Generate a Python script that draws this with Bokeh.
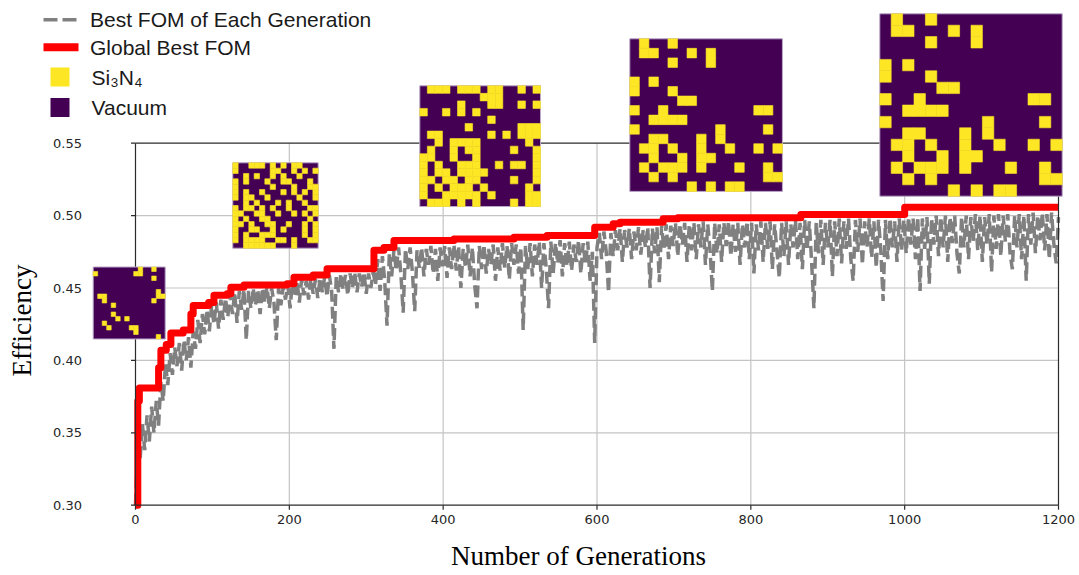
import math
from bokeh.plotting import figure
from bokeh.models import Range1d
from bokeh.core.properties import value
from bokeh.embed import file_html
from bokeh.resources import INLINE

# ---------------- data ----------------
# Global best FOM (step changes): generation, efficiency
red_gen = [0, 3, 5, 30, 33, 40, 46, 62, 72, 75, 95, 102, 119, 124, 141, 197, 206,
           231, 249, 310, 323, 336, 414, 492, 535, 597, 621, 630, 686, 705, 865, 1000, 1200]
red_val = [0.300, 0.372, 0.381, 0.395, 0.407, 0.411, 0.419, 0.421, 0.432, 0.438, 0.440,
           0.445, 0.446, 0.4505, 0.452, 0.453, 0.4575, 0.459, 0.4633, 0.476, 0.478, 0.4828,
           0.4839, 0.4851, 0.4862, 0.492, 0.4943, 0.4954, 0.4978, 0.4985, 0.5008, 0.5058, 0.5058]

# Best FOM of each generation (read every 3 generations)
gray_every = 3
gray_val = [
    0.300, 0.345, 0.332, 0.356, 0.338, 0.362, 0.344, 0.368, 0.350, 0.372, 0.355, 0.385, 0.372, 0.398, 0.383, 0.405, 0.390, 0.409, 0.396, 0.412,
    0.393, 0.414, 0.400, 0.416, 0.395, 0.420, 0.408, 0.428, 0.412, 0.432, 0.418, 0.435, 0.420, 0.438, 0.425, 0.440, 0.422, 0.442, 0.428, 0.443,
    0.430, 0.446, 0.432, 0.447, 0.426, 0.448, 0.435, 0.449, 0.414, 0.448, 0.436, 0.450, 0.438, 0.449, 0.432, 0.450, 0.440, 0.451, 0.436, 0.450,
    0.440, 0.414, 0.450, 0.438, 0.451, 0.442, 0.452, 0.436, 0.454, 0.444, 0.455, 0.440, 0.456, 0.445, 0.455, 0.442, 0.457, 0.446, 0.456, 0.443,
    0.457, 0.447, 0.458, 0.444, 0.459, 0.448, 0.408, 0.458, 0.447, 0.460, 0.449, 0.459, 0.445, 0.460, 0.450, 0.461, 0.447, 0.460, 0.451, 0.461,
    0.446, 0.460, 0.450, 0.461, 0.452, 0.470, 0.448, 0.472, 0.455, 0.424, 0.474, 0.458, 0.476, 0.462, 0.478, 0.460, 0.433, 0.477, 0.463, 0.478,
    0.461, 0.434, 0.476, 0.464, 0.478, 0.458, 0.477, 0.466, 0.479, 0.460, 0.477, 0.455, 0.478, 0.465, 0.479, 0.457, 0.478, 0.463, 0.480, 0.462,
    0.479, 0.450, 0.477, 0.464, 0.480, 0.458, 0.478, 0.452, 0.436, 0.479, 0.463, 0.480, 0.460, 0.477, 0.466, 0.480, 0.455, 0.478, 0.462, 0.481,
    0.464, 0.479, 0.456, 0.481, 0.466, 0.480, 0.460, 0.478, 0.421, 0.479, 0.463, 0.481, 0.458, 0.480, 0.466, 0.482, 0.450, 0.481, 0.464, 0.436,
    0.482, 0.460, 0.481, 0.467, 0.483, 0.458, 0.481, 0.465, 0.482, 0.462, 0.480, 0.468, 0.483, 0.460, 0.481, 0.466, 0.482, 0.455, 0.475, 0.412,
    0.478, 0.488, 0.470, 0.489, 0.475, 0.447, 0.488, 0.472, 0.490, 0.476, 0.491, 0.468, 0.490, 0.478, 0.491, 0.470, 0.489, 0.476, 0.492, 0.473,
    0.490, 0.478, 0.492, 0.450, 0.491, 0.474, 0.492, 0.454, 0.493, 0.477, 0.494, 0.470, 0.493, 0.479, 0.495, 0.472, 0.494, 0.480, 0.495, 0.468,
    0.494, 0.476, 0.495, 0.470, 0.494, 0.478, 0.496, 0.466, 0.494, 0.476, 0.448, 0.495, 0.474, 0.494, 0.468, 0.495, 0.479, 0.496, 0.472, 0.494,
    0.475, 0.495, 0.466, 0.494, 0.478, 0.496, 0.470, 0.495, 0.460, 0.494, 0.476, 0.496, 0.468, 0.495, 0.477, 0.496, 0.463, 0.494, 0.475, 0.457,
    0.495, 0.472, 0.496, 0.466, 0.494, 0.478, 0.497, 0.470, 0.495, 0.463, 0.497, 0.476, 0.496, 0.468, 0.436, 0.495, 0.474, 0.497, 0.466, 0.495,
    0.478, 0.497, 0.458, 0.496, 0.472, 0.498, 0.467, 0.496, 0.477, 0.498, 0.470, 0.455, 0.497, 0.475, 0.498, 0.466, 0.496, 0.478, 0.498, 0.471,
    0.496, 0.464, 0.497, 0.476, 0.441, 0.497, 0.470, 0.498, 0.478, 0.496, 0.468, 0.498, 0.476, 0.497, 0.474, 0.499, 0.480, 0.498, 0.470, 0.499,
    0.448, 0.498, 0.477, 0.499, 0.453, 0.498, 0.480, 0.500, 0.472, 0.499, 0.478, 0.500, 0.468, 0.499, 0.481, 0.500, 0.474, 0.460, 0.499, 0.478,
    0.500, 0.470, 0.499, 0.482, 0.501, 0.476, 0.500, 0.468, 0.499, 0.480, 0.501, 0.461, 0.500, 0.477, 0.501, 0.472, 0.500, 0.482, 0.501, 0.474,
    0.463, 0.500, 0.478, 0.501, 0.470, 0.500, 0.455, 0.501, 0.480, 0.502, 0.474, 0.500, 0.483, 0.502, 0.476, 0.501, 0.470, 0.502, 0.480, 0.467,
    0.499,
]
assert len(gray_val) == 401, len(gray_val)
gray_gen = [gray_every * i for i in range(len(gray_val))]

x_ticks = [0, 200, 400, 600, 800, 1000, 1200]
x_tick_labels = ["0", "200", "400", "600", "800", "1000", "1200"]
y_ticks = [0.30, 0.35, 0.40, 0.45, 0.50, 0.55]
y_tick_labels = ["0.30", "0.35", "0.40", "0.45", "0.50", "0.55"]
x_title = "Number of Generations"
y_title = "Efficiency"
legend_labels = ["Best FOM of Each Generation", "Global Best FOM", "Si\u2083N\u2084", "Vacuum"]

# Structure snapshots (16x16, '#' = Si3N4, '.' = vacuum), top row first
pattern_a = [
    "..........#..#..",
    "#........##.....",
    ".............#..",
    "................",
    "................",
    "..............#.",
    ".##...........##",
    "..#..........#..",
    "....#...........",
    "................",
    "....#...........",
    ".....#.#........",
    "..#.............",
    "...#....##......",
    ".........#......",
    "..............#.",
]
pattern_b = [
    "#..###.#.#.##...",
    "#......##..#.#.#",
    "..#.#..#.#..#...",
    "#.#...#..##...#.",
    "#......#...#..##",
    "#.#..#...#.#.#.#",
    "#.##..#.....#..#",
    "..#.#...#.#..#..",
    "#.##.#.#..#...##",
    "##..##..#..#.#.#",
    "#.#..##.......#.",
    "##.#..##..#..#.#",
    "#..##..#.#...#.#",
    "#.#..###.....#.#",
    "#.####..##.#..##",
    "..######...#....",
]
pattern_c = [
    ".###.###.##..#.#",
    "........###.....",
    ".....#...##..#.#",
    "#..#.#.#........",
    ".........#......",
    "......#......###",
    ".##......#.#.###",
    "..#.####......#.",
    ".#..#.##....#..#",
    "##..#..#.......#",
    "#.#..###..#.##.#",
    "#.##.####......#",
    "##.##.##....#..#",
    "#.#.###.#.....#.",
    "#..#####.#....##",
    ".###.#.#....#.##",
]
pattern_d = [
    ".#..#...........",
    ".##...#.#.......",
    "....#...#.......",
    "................",
    "#.#.............",
    "#...#...........",
    ".....##.........",
    "#..#.........##.",
    "..####..........",
    "#........#....#.",
    "..##...#.#......",
    ".##.#..#..#..#.#",
    "..#..#.##.......",
    ".#.###.#...#..#.",
    "..#.#.........##",
    "......#.#.##....",
]
snapshots = [pattern_a, pattern_b, pattern_c, pattern_d, pattern_d]

# ---------------- layout (page pixels) ----------------
FIG_W, FIG_H, MARGIN = 1079, 575, 0
PX_X0 = 135.0                 # page x of generation 0
PX_PER_GEN = 923.0 / 1200.0
PY_Y055 = 142.7               # page y of efficiency 0.55
PX_PER_EFF = 1448.0


def dx(px):
    return (px - PX_X0) / PX_PER_GEN


def dy(py):
    return 0.55 - (py - PY_Y055) / PX_PER_EFF


# inset boxes: (left, top, size) in page pixels
inset_boxes = [(92.7, 266.5, 72.0), (232.3, 162.3, 85.4), (419.3, 85.3, 120.7),
               (629.3, 38.3, 152.6), (879.3, 13.3, 182.4)]

PURPLE = "#440154"
YELLOW = "#fde725"
GRAY = "#808080"
RED = "#ff0000"
GRID = "#c4c4c4"
SPINE = "#2b2b2b"

p = figure(width=FIG_W, height=FIG_H, output_backend="svg", toolbar_location=None,
           x_axis_type=None, y_axis_type=None, min_border=0,
           x_range=Range1d(dx(MARGIN), dx(MARGIN + FIG_W)),
           y_range=Range1d(dy(MARGIN + FIG_H), dy(MARGIN)))
p.outline_line_color = None
p.background_fill_color = "white"
p.border_fill_color = "white"
p.xgrid.visible = False
p.ygrid.visible = False

x_lo, x_hi = x_ticks[0], x_ticks[-1]
y_lo, y_hi = y_ticks[0], y_ticks[-1]

# grid
p.segment(x0=x_ticks[1:-1], x1=x_ticks[1:-1], y0=[y_lo] * 5, y1=[y_hi] * 5,
          line_color=GRID, line_width=1.2)
p.segment(x0=[x_lo] * 4, x1=[x_hi] * 4, y0=y_ticks[1:-1], y1=y_ticks[1:-1],
          line_color=GRID, line_width=1.2)

# series
p.line(gray_gen, gray_val, line_color=GRAY, line_width=3.5, line_dash="12 5")
p.step(red_gen, red_val, mode="after", line_color=RED, line_width=7, line_join="round")

# spines
p.segment(x0=[x_lo, x_lo, x_lo, x_hi], x1=[x_hi, x_hi, x_lo, x_hi],
          y0=[y_lo, y_hi, y_lo, y_lo], y1=[y_lo, y_hi, y_hi, y_hi],
          line_color=SPINE, line_width=1.2)

# ticks
tick_len = 4.5
p.segment(x0=x_ticks, x1=x_ticks, y0=[y_lo] * len(x_ticks),
          y1=[dy(PY_Y055 + 0.25 * PX_PER_EFF + tick_len)] * len(x_ticks),
          line_color=SPINE, line_width=1.2)
p.segment(x0=[x_lo] * len(y_ticks), x1=[dx(PX_X0 - tick_len)] * len(y_ticks),
          y0=y_ticks, y1=y_ticks, line_color=SPINE, line_width=1.2)

# tick labels
p.text(x=[dx(81.5)] * len(y_ticks), y=y_ticks, text=y_tick_labels,
       text_font=value("DejaVu Sans"), text_font_size="13px", text_color="#262626",
       text_align="right", text_baseline="middle")
p.text(x=x_ticks, y=[dy(514.0)] * len(x_ticks), text=x_tick_labels,
       text_font=value("DejaVu Sans"), text_font_size="13px", text_color="#262626",
       text_align="center", text_baseline="top")

# axis titles
p.text(x=[dx(578.0)], y=[dy(555.0)], text=[x_title],
       text_font=value("Liberation Serif"), text_font_size="27px", text_color="black",
       text_align="center", text_baseline="middle")
p.text(x=[dx(21.0)], y=[dy(320.0)], text=[y_title], angle=math.pi / 2,
       text_font=value("Liberation Serif"), text_font_size="27px", text_color="black",
       text_align="center", text_baseline="middle")

# structure insets
bg = dict(left=[], right=[], top=[], bottom=[])
cells = dict(left=[], right=[], top=[], bottom=[])
for pat, (bx, by, bs) in zip(snapshots, inset_boxes):
    n = len(pat)
    cs = bs / n
    bg["left"].append(dx(bx)); bg["right"].append(dx(bx + bs))
    bg["top"].append(dy(by)); bg["bottom"].append(dy(by + bs))
    for r, row in enumerate(pat):
        assert len(row) == n
        for c, ch in enumerate(row):
            if ch == "#":
                cells["left"].append(dx(bx + c * cs))
                cells["right"].append(dx(bx + (c + 1) * cs))
                cells["top"].append(dy(by + r * cs))
                cells["bottom"].append(dy(by + (r + 1) * cs))
p.quad(**bg, fill_color=PURPLE, line_color="#b9a9c9", line_width=1)
p.quad(**cells, fill_color=YELLOW, line_color=YELLOW, line_width=0.6)

# legend (drawn)
leg_y = [19.3, 46.7, 76.5, 107.0]
p.line([dx(43), dx(77)], [dy(leg_y[0])] * 2, line_color=GRAY, line_width=3.5, line_dash="14 5")
p.line([dx(43), dx(78)], [dy(leg_y[1])] * 2, line_color=RED, line_width=8)
p.quad(left=[dx(50), dx(50)], right=[dx(69), dx(69)],
       top=[dy(leg_y[2] - 9.5), dy(leg_y[3] - 9.5)],
       bottom=[dy(leg_y[2] + 9.5), dy(leg_y[3] + 9.5)],
       fill_color=[YELLOW, PURPLE], line_color=None)
p.text(x=[dx(89.5), dx(89.5), dx(91.0), dx(91.0)], y=[dy(v) for v in leg_y], text=legend_labels,
       text_font=value("Liberation Sans"), text_font_size="21px", text_color="#1a1a1a",
       text_align="left", text_baseline="middle")

open("out.html", "w").write(file_html(p, INLINE))
